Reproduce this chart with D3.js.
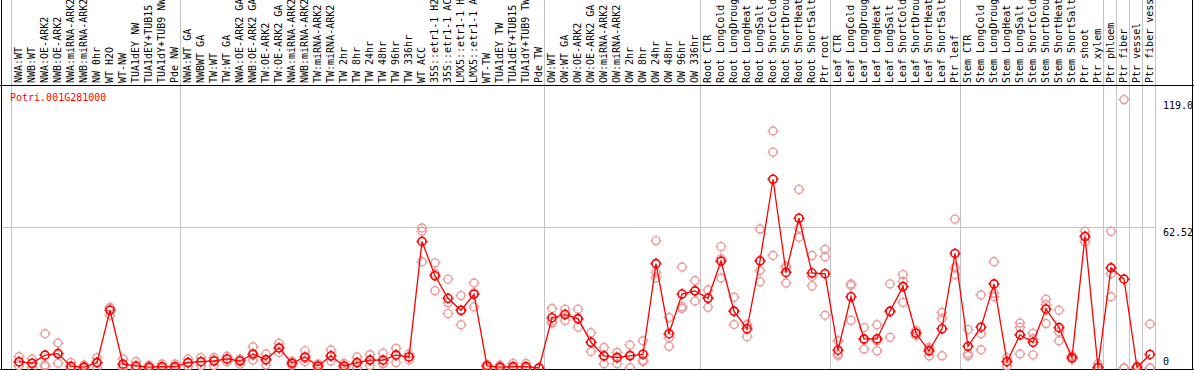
<!DOCTYPE html>
<html>
<head>
<meta charset="utf-8">
<script src="https://cdn.jsdelivr.net/npm/d3@7"></script>
<style>
  body { margin: 0; background: #fff; }
  text { font-family: "DejaVu Sans Mono", monospace; font-size: 10px; }
</style>
</head>
<body>
<script>
// Chart data
var geneName = "Potri.001G281000";

var categories = [
  "NWA:WT", "NWB:WT", "NWA:OE-ARK2", "NWB:OE-ARK2", "NWA:miRNA-ARK2", "NWB:miRNA-ARK2",
  "NW 0hr", "WT H2O", "WT-NW", "TUA1dEY NW", "TUA1dEY+TUB15 NW", "TUA1dY+TUB9 NW", "Pde NW",
  "NWA:WT GA", "NWBWT GA", "TW:WT", "TW:WT GA", "NWA:OE-ARK2 GA", "NWB:OE-ARK2 GA",
  "TW:OE-ARK2", "TW:OE-ARK2 GA", "NWA:miRNA-ARK2 GA", "NWB:miRNA-ARK2 GA", "TW:miRNA-ARK2",
  "TW:miRNA-ARK2 GA", "TW 2hr", "TW 8hr", "TW 24hr", "TW 48hr", "TW 96hr", "TW 336hr",
  "WT ACC", "35S::etr1-1 H2O", "35S::etr1-1 ACC", "LMX5::etr1-1 H2O", "LMX5::etr1-1 ACC",
  "WT-TW", "TUA1dEY TW", "TUA1dEY+TUB15 TW", "TUA1dY+TUB9 TW", "Pde TW",
  "OW:WT", "OW:WT GA", "OW:OE-ARK2", "OW:OE-ARK2 GA", "OW:miRNA-ARK2", "OW:miRNA-ARK2 GA",
  "OW 2hr", "OW 8hr", "OW 24hr", "OW 48hr", "OW 96hr", "OW 336hr",
  "Root CTR", "Root LongCold", "Root LongDrought", "Root LongHeat", "Root LongSalt",
  "Root ShortCold", "Root ShortDrought", "Root ShortHeat", "Root ShortSalt", "Ptr root",
  "Leaf CTR", "Leaf LongCold", "Leaf LongDrought", "Leaf LongHeat", "Leaf LongSalt",
  "Leaf ShortCold", "Leaf ShortDrought", "Leaf ShortHeat", "Leaf ShortSalt", "Ptr leaf",
  "Stem CTR", "Stem LongCold", "Stem LongDrought", "Stem LongHeat", "Stem LongSalt",
  "Stem ShortCold", "Stem ShortDrought", "Stem ShortHeat", "Stem ShortSalt", "Ptr shoot",
  "Ptr xylem", "Ptr phloem", "Ptr fiber", "Ptr vessel", "Ptr fiber vessel"
];

// number of categories in each separated block
var groupSizes = [13, 28, 12, 10, 10, 11, 1, 1, 1, 1];

// mean expression per category
var means = [
  2.8, 2.1, 5.7, 6.4, 0.8, 0.4, 2.4, 25.6, 1.7, 0.9, 0.4, 0.6, 0.6,
  2.4, 2.8, 3.1, 4.0, 3.1, 6.2, 3.7, 8.9, 2.1, 4.9, 0.9, 5.4, 0.9, 2.4, 3.5, 3.5, 5.7, 4.9,
  56.1, 40.9, 30.9, 25.6, 32.7, 0.9, 0.4, 0.6, 0.6, 0,
  22.3, 23.7, 21.9, 11.4, 5.4, 4.6, 5.4, 6.1, 46.3, 15.2, 32.8, 34.2,
  30.9, 47.4, 25.2, 17.4, 47.5, 83.7, 42.4, 66.4, 42.1, 41.8,
  7.9, 31.6, 12.9, 12.9, 25.2, 36.1, 15.4, 7.6, 17.4, 50.8,
  9.6, 18.1, 37.3, 2.8, 14.7, 11.4, 26.1, 17.9, 4.6, 58.3, 0.3,
  44.4, 39.4, 0.3, 6.0
];

// replicate values per category
var replicates = [
  [5.0, 2.6, 1.0], [4.0, 2.0, 0.2], [15.2, 1.3, 0.6], [11.1, 6.0, 2.1], [2.4, 0, 0],
  [1.3, 0, 0], [4.6, 2.4, 0.2], [26.9, 26.5, 23.4], [4.0, 1.0, 0.1], [2.8, 0, 0],
  [1.2, 0, 0], [1.8, 0, 0], [1.8, 0, 0],
  [4.0, 2.4, 0.8], [4.6, 2.8, 1.0], [4.6, 3.6, 1.1], [5.2, 4.0, 2.8], [4.0, 3.6, 1.7],
  [9.4, 5.7, 3.5], [6.2, 3.5, 1.4], [10.9, 8.9, 6.9], [3.0, 2.1, 1.2], [7.6, 4.3, 2.8],
  [1.8, 0.9, 0], [8.0, 5.1, 3.1], [2.0, 0.7, 0], [4.9, 2.4, 0.1], [5.9, 3.5, 1.1],
  [6.6, 2.1, 1.8], [8.7, 6.0, 2.4], [6.2, 4.9, 3.6],
  [62.1, 60.6, 47.1], [46.6, 41.8, 34.3], [39.4, 28.9, 24.1], [32.1, 25.5, 19.2],
  [37.7, 33.3, 27.1], [1.6, 1.1, 0], [1.3, 0, 0], [2.0, 0, 0], [2.0, 0, 0], [0, 0, 0],
  [26.4, 20.6, 19.9], [26.1, 23.9, 21.1], [26.1, 21.5, 18.1], [15.6, 11.3, 7.3],
  [9.1, 5.2, 1.9], [6.9, 5.0, 1.9], [10.2, 5.9, 0.1], [12.1, 3.4, 2.8],
  [56.5, 42.4, 39.9], [22.4, 13.4, 9.6], [44.8, 27.2, 26.4], [38.7, 34.2, 29.7],
  [34.6, 31.2, 26.9], [53.8, 48.5, 39.9], [31.4, 25.0, 19.3], [19.3, 19.0, 13.9],
  [61.6, 43.2, 38.2], [105.1, 95.7, 49.9], [45.1, 44.4, 37.7], [79.2, 62.0, 58.0],
  [49.9, 40.6, 36.4], [52.6, 49.3, 23.4],
  [12.1, 6.2, 5.5], [37.3, 36.6, 21.1], [17.9, 12.5, 8.4], [19.2, 12.0, 7.6],
  [37.3, 24.8, 13.6], [41.4, 38.4, 29.1], [16.6, 15.4, 14.3], [9.1, 8.4, 5.3],
  [24.6, 21.9, 5.4], [66.0, 44.4, 41.4],
  [17.0, 6.4, 5.4], [32.4, 15.2, 8.1], [47.1, 33.2, 31.6], [4.6, 2.9, 0.9],
  [19.9, 18.0, 6.2], [15.4, 13.0, 5.8], [30.5, 28.1, 19.7], [25.6, 16.0, 12.1],
  [5.4, 4.6, 3.8], [60.6, 58.3, 55.9], [1.9, 0, 0], [60.6, 41.8, 31.6],
  [119.0, 0, 0], [1.0, 0, 0], [19.5, 0, 0]
];

// right hand axis labels
var tickValues = [0, 62.52, 119.0];
var tickLabels = ["0", "62.52", "119.0"];
var yMax = 125.04;

// Page size and plot frame
var svgWidth = 1194;
var svgHeight = 370;
var plotLeft = 11;
var colWidth = 13;
var plotTop = 85;
var plotBottom = 369;

var svg = d3.select("body")
  .append("svg")
  .attr("width", svgWidth)
  .attr("height", svgHeight);

// scales
var xScale = d3.scaleBand()
  .domain(d3.range(categories.length))
  .range([plotLeft, plotLeft + colWidth * categories.length])
  .padding(0);

var cx = i => xScale(i) + xScale.bandwidth() / 2 + 1.5;

var yScale = d3.scaleLinear()
  .domain([0, yMax])
  .range([368, 86]);

// group separators (grey vertical lines)
var boundaries = [0];
groupSizes.forEach(function (n) { boundaries.push(boundaries[boundaries.length - 1] + n); });
var bx = k => k < categories.length ? xScale(k) : xScale.range()[1];

svg.append("g")
  .selectAll("line")
  .data(boundaries)
  .enter()
  .append("line")
  .attr("x1", d => bx(d) + 0.5)
  .attr("x2", d => bx(d) + 0.5)
  .attr("y1", 0)
  .attr("y2", plotBottom)
  .attr("stroke", "#c4c4c4")
  .attr("stroke-width", 1);

// horizontal grid line at the middle tick
svg.append("line")
  .attr("x1", 1)
  .attr("x2", bx(categories.length))
  .attr("y1", Math.round(yScale(62.52)) + 0.5)
  .attr("y2", Math.round(yScale(62.52)) + 0.5)
  .attr("stroke", "#c4c4c4");

// frame
svg.append("line").attr("x1", 0).attr("x2", svgWidth).attr("y1", plotTop + 0.5).attr("y2", plotTop + 0.5).attr("stroke", "#000");
svg.append("line").attr("x1", 0).attr("x2", svgWidth).attr("y1", plotBottom + 0.5).attr("y2", plotBottom + 0.5).attr("stroke", "#000");
svg.append("line").attr("x1", 1.5).attr("x2", 1.5).attr("y1", 0).attr("y2", svgHeight).attr("stroke", "#000");
svg.append("line").attr("x1", svgWidth - 1.5).attr("x2", svgWidth - 1.5).attr("y1", 0).attr("y2", svgHeight).attr("stroke", "#000");

// rotated category labels
svg.append("g")
  .selectAll("text")
  .data(categories)
  .enter()
  .append("text")
  .attr("transform", (d, i) => `translate(${cx(i) + 3}, 83) rotate(-90)`)
  .attr("fill", "#000")
  .text(d => d);

// right axis labels
svg.append("g")
  .selectAll("text")
  .data(tickValues)
  .enter()
  .append("text")
  .attr("x", 1163)
  .attr("y", d => Math.min(yScale(d) + 9, 365))
  .attr("fill", "#000")
  .text((d, i) => tickLabels[i]);

// gene name
svg.append("text")
  .attr("x", 10)
  .attr("y", 101)
  .attr("fill", "#ff0000")
  .text(geneName);

// marker: open circle with small ticks
function marker(r) {
  var p = d3.path();
  p.moveTo(r, 0);
  p.arc(0, 0, r, 0, 2 * Math.PI);
  p.moveTo(0, -r); p.lineTo(0, -r - 1.5);
  p.moveTo(0, r); p.lineTo(0, r + 1.5);
  p.moveTo(-r, 0); p.lineTo(-r - 1.5, 0);
  p.moveTo(r, 0); p.lineTo(r + 1.5, 0);
  return p.toString();
}

// replicate points
var repPoints = [];
replicates.forEach(function (reps, i) {
  reps.forEach(function (v) { repPoints.push({ i: i, v: v }); });
});

svg.append("g")
  .selectAll("path")
  .data(repPoints)
  .enter()
  .append("path")
  .attr("d", marker(4))
  .attr("transform", d => `translate(${cx(d.i)}, ${yScale(d.v)})`)
  .attr("fill", "none")
  .attr("stroke", "#ec9a9a")
  .attr("stroke-width", 1.4);

// line through means
var line = d3.line()
  .x((d, i) => cx(i))
  .y(d => yScale(d));

svg.append("path")
  .datum(means)
  .attr("d", line)
  .attr("fill", "none")
  .attr("stroke", "#ff0000")
  .attr("stroke-width", 1.3);

// mean points
svg.append("g")
  .selectAll("path")
  .data(means)
  .enter()
  .append("path")
  .attr("d", marker(4))
  .attr("transform", (d, i) => `translate(${cx(i)}, ${yScale(d)})`)
  .attr("fill", "none")
  .attr("stroke", "#ff0000")
  .attr("stroke-width", 1.6);
</script>
</body>
</html>
